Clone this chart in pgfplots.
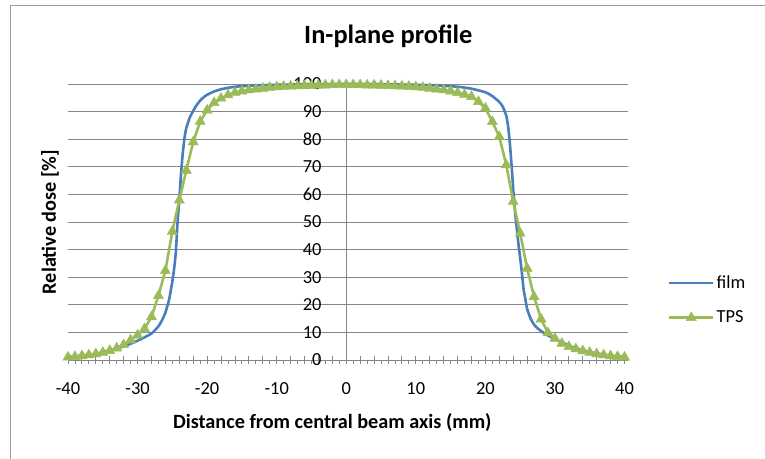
\documentclass[border=0pt]{standalone}
\usepackage{pgfplots}
\pgfplotsset{compat=1.18}
\usepackage{fontspec}
\setmainfont{Carlito}
\definecolor{filmblue}{HTML}{4A7EBB}
\definecolor{tpsgreen}{HTML}{9BBB59}
\definecolor{gridgray}{HTML}{868686}
\begin{document}
\begin{tikzpicture}
\path[use as bounding box, fill=white] (0,0) rectangle (765bp,459bp);
\draw[gridgray!80, line width=1bp] (10bp,0) -- (10bp,453.5bp) -- (765bp,453.5bp);
\begin{axis}[
  at={(68bp,99bp)}, anchor=south west,
  scale only axis, width=560bp, height=276bp,
  xmin=-40, xmax=40.5, ymin=0, ymax=100,
  axis x line*=bottom, axis y line*=left,
  x axis line style={gridgray, line width=0.9bp, -},
  y axis line style={draw=none, -},
  clip=false,
  ytick={0,10,...,100},
  xtick={-40,-38,...,40},
  xticklabels={-40,,,,,-30,,,,,-20,,,,,-10,,,,,0,,,,,10,,,,,20,,,,,30,,,,,40},
  extra x ticks={0},
  extra x tick labels={},
  extra x tick style={xmajorgrids=true, major grid style={gridgray, line width=0.9bp}},
  minor x tick num=1,
  tick align=center,
  major tick length=8bp,
  minor tick length=4bp,
  minor x tick style={yshift=-2bp},
  x tick style={gridgray, line width=0.9bp},
  y tick style={draw=none},
  ymajorgrids,
  grid style={gridgray, line width=0.9bp},
  /pgf/number format/assume math mode=true,
  tick label style={font=\fontsize{18.5}{22}\selectfont},
  xticklabel style={yshift=-15bp},
  yticklabel style={anchor=east, xshift=261bp},
  title={In-plane profile},
  title style={at={(0.572,1.152)}, anchor=center, font=\bfseries\fontsize{26.5}{32}\selectfont},
  xlabel={Distance from central beam axis (mm)},
  xlabel style={at={(0.472,-0.225)}, anchor=center, font=\bfseries\fontsize{20.3}{24}\selectfont},
  ylabel={Relative dose [\%]},
  ylabel style={at={(-0.032,0.5)}, anchor=center, rotate=0, font=\bfseries\fontsize{20.3}{24}\selectfont},
  legend style={at={(1.071,0.217)}, anchor=west, draw=none, fill=none,
    font=\fontsize{18.5}{22}\selectfont, row sep=17bp, inner sep=0pt,
    /tikz/every even column/.append style={column sep=0bp}},
  legend cell align=left,
  legend image code/.code={\draw[mark repeat=2,mark phase=2,#1] plot coordinates {(0bp,0bp) (22bp,0bp) (44bp,0bp)};},
]
\addplot[color=filmblue, line width=2.6bp, smooth, tension=0.3] coordinates {
(-40,1.1) (-39,1.3) (-38,1.6) (-37,1.9) (-36,2.3) (-35,2.8) (-34,3.4) (-33,4.1) (-32,4.9) (-31,5.9) (-30,7.0) (-29,8.2) (-28,9.6) (-27.5,10.8) (-27,12.2) (-26.5,14.3) (-26,17.2) (-25.5,21.5) (-25.25,24.8) (-25,28.5) (-24.75,33) (-24.5,39) (-24.25,50) (-24,58) (-23.75,67.5) (-23.5,75) (-23.25,80.5) (-23,84) (-22.5,87.8) (-22,90.3) (-21.5,92.4) (-21,94) (-20.5,95.2) (-20,96.1) (-19,97.3) (-18,98.1) (-17,98.6) (-16,99.0) (-15,99.2) (-13,99.5) (-10,99.7) (-5,99.9) (0,100)
(5,99.9) (10,99.7) (13,99.5) (15,99.2) (16,99.0) (17,98.7) (18,98.3) (19,97.7) (20,97.0) (20.5,96.4) (21,95.6) (21.5,94.6) (22,93.5) (22.5,91.8) (23,88.5) (23.25,85) (23.5,79) (23.75,71) (24,62) (24.25,54) (24.5,48) (24.75,42) (25,37) (25.25,31.5) (25.5,25.5) (25.75,22) (26,18.5) (26.5,15) (27,12.8) (27.5,11.5) (28,10.5) (29,8.9) (30,7.6) (31,6.4) (32,5.2) (33,4.3) (34,3.5) (35,2.9) (36,2.4) (37,1.9) (38,1.6) (39,1.3) (40,1.1)
};
\addlegendentry{film}
\addplot[color=tpsgreen, line width=2.6bp, mark=triangle*, mark size=5.8bp, mark options={fill=tpsgreen, draw=tpsgreen, line width=0.5bp}] coordinates {
(-40,1.0) (-39,1.2) (-38,1.5) (-37,1.8) (-36,2.2) (-35,2.7) (-34,3.4) (-33,4.3) (-32,5.5) (-31,7.2) (-30,9.0) (-29,11.3) (-28,15.6) (-27,23.3) (-26,32.4) (-25,46.6) (-24,57.9) (-23,68.7) (-22,79) (-21,86.4) (-20,90.5) (-19,93.2) (-18,94.8) (-17,96.0) (-16,96.9) (-15,97.4) (-14,97.8) (-13,98.1) (-12,98.4) (-11,98.7) (-10,98.9) (-9,99.1) (-8,99.2) (-7,99.3) (-6,99.4) (-5,99.5) (-4,99.6) (-3,99.6) (-2,99.7) (-1,99.7) (0,99.7)
(1,99.7) (2,99.7) (3,99.6) (4,99.6) (5,99.5) (6,99.4) (7,99.3) (8,99.2) (9,99.1) (10,98.9) (11,98.7) (12,98.4) (13,98.1) (14,97.8) (15,97.4) (16,96.8) (17,96.2) (18,95.4) (19,93.6) (20,91.2) (21,86.3) (22,80.9) (23,70.7) (24,57.4) (25,45.9) (26,33.2) (27,22.9) (28,14.8) (29,9.8) (30,7.8) (31,6.0) (32,4.8) (33,4.0) (34,3.3) (35,2.7) (36,2.2) (37,1.8) (38,1.5) (39,1.2) (40,1.0)
};
\addlegendentry{TPS}
\end{axis}
\end{tikzpicture}
\end{document}
